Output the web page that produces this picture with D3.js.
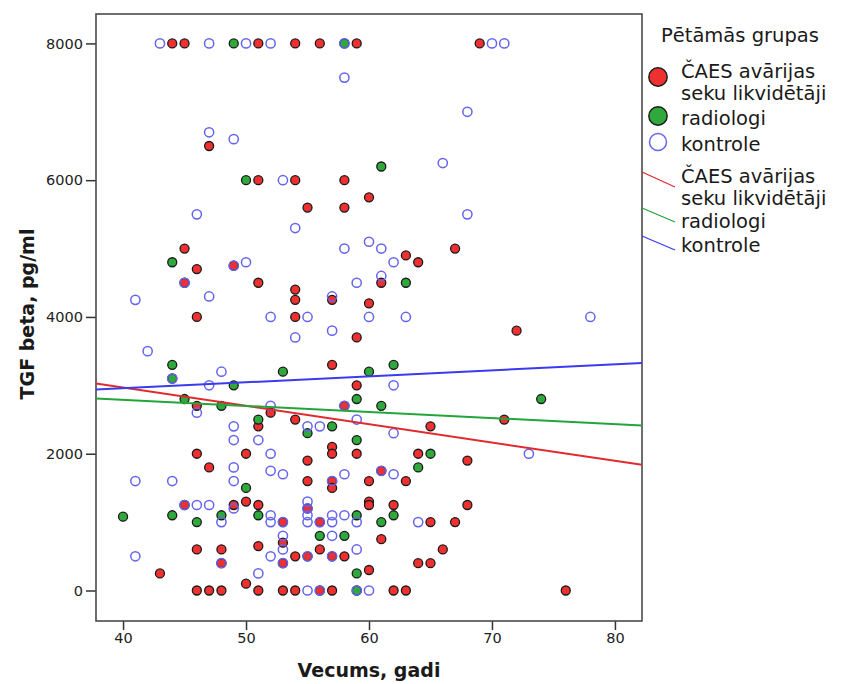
<!DOCTYPE html>
<html>
<head>
<meta charset="utf-8">
<script src="https://cdn.jsdelivr.net/npm/d3@7"></script>
<style>
  html, body { margin: 0; padding: 0; background: #fff; }
  svg { display: block; font-family: "DejaVu Sans", Verdana, sans-serif; }
</style>
</head>
<body>
<svg id="chart" width="844" height="684"></svg>
<script>
// Groups (legend order)
const groups = ["ČAES avārijas seku likvidētāji", "radiologi", "kontrole"];
const groupLines = [["ČAES avārijas", "seku likvidētāji"], ["radiologi"], ["kontrole"]];

// Age (years) and TGF beta (pg/ml) per group
const caesAge = [44,45,51,54,56,59,69, 47, 51,54,58, 60, 55,58, 45,67, 63, 64, 49, 46, 45,51,61, 54, 54,57, 60, 46,54, 72, 59, 57, 59, 46,58, 52, 54,71, 51,65, 57, 46,50,57,59,64, 55,68, 47, 61, 55,57,60,63, 57, 50,60, 45,49,51,60,62,68, 55, 53,56,65,67, 61, 53, 51, 46,48,56,66, 54,55,57,58, 48,53,64,65, 60, 43, 50, 46,47,48,51,53,54,56,57,62,63,76];
const caesTgf = [8000,8000,8000,8000,8000,8000,8000, 6500, 6000,6000,6000, 5750, 5600,5600, 5000,5000, 4900, 4800, 4750, 4700, 4500,4500,4500, 4400, 4250,4250, 4200, 4000,4000, 3800, 3700, 3300, 3000, 2700,2700, 2600, 2500,2500, 2400,2400, 2100, 2000,2000,2000,2000,2000, 1900,1900, 1800, 1750, 1600,1600,1600,1600, 1500, 1300,1300, 1250,1250,1250,1250,1250,1250, 1200, 1000,1000,1000,1000, 750, 700, 650, 600,600,600,600, 500,500,500,500, 400,400,400,400, 300, 250, 100, 0,0,0,0,0,0,0,0,0,0,0];

const radAge = [49,58, 61, 50, 44, 63, 44,62, 53,60, 44, 49, 45,59,74, 48,61, 51, 57, 55, 59, 65, 64, 50, 44,48,51,59,62, 40, 46,61, 56,58, 59, 59];
const radTgf = [8000,8000, 6200, 6000, 4800, 4500, 3300,3300, 3200,3200, 3100, 3000, 2800,2800,2800, 2700,2700, 2500, 2400, 2300, 2200, 2000, 1800, 1500, 1100,1100,1100,1100,1100, 1080, 1000,1000, 800,800, 250, 0];

const kontAge = [43,47,50,52,58,70,71, 58, 68, 47, 49, 66, 53, 46,68, 54, 60, 58,61, 50,62, 49, 61, 45,59, 47,57, 41, 52,55,60,63,78, 57, 54, 42, 48, 44, 47,62, 52,58, 46, 59, 49,55,56, 62, 49,51, 52,73, 49, 52,61, 53,58,62, 41,44,49,57, 55, 45,46,47, 49,55, 52,55,57,58, 48,52,53,55,56,57,59,64, 53,57, 53,59, 41,52,55,57, 48,53, 51, 55,56,59,60];
const kontTgf = [8000,8000,8000,8000,8000,8000,8000, 7500, 7000, 6700, 6600, 6250, 6000, 5500,5500, 5300, 5100, 5000,5000, 4800,4800, 4750, 4600, 4500,4500, 4300,4300, 4250, 4000,4000,4000,4000,4000, 3800, 3700, 3500, 3200, 3100, 3000,3000, 2700,2700, 2600, 2500, 2400,2400,2400, 2300, 2200,2200, 2000,2000, 1800, 1750,1750, 1700,1700,1700, 1600,1600,1600,1600, 1300, 1250,1250,1250, 1200,1200, 1100,1100,1100,1100, 1000,1000,1000,1000,1000,1000,1000,1000, 800,800, 600,600, 500,500,500,500, 400,400, 250, 0,0,0,0];

// Linear fit per group: predicted TGF beta at ages 40 and 80
const fitAt40 = [2968, 2788, 2958];
const fitAt80 = [1896, 2434, 3306];

const xTicks = [40, 50, 60, 70, 80];
const yTicks = [0, 2000, 4000, 6000, 8000];

const fillColors = ["#ee3030", "#2fa83c", "none"];
const strokeColors = ["#1a1a1a", "#1a1a1a", "#6464f0"];
const lineColors = ["#e02a2e", "#22a53a", "#3a3aee"];

const svg = d3.select("#chart");
const plotLeft = 96, plotRight = 642, plotTop = 14, plotBottom = 621;

const x = d3.scaleLinear().domain([37.8, 82.2]).range([plotLeft, plotRight]);
const y = d3.scaleLinear().domain([-446, 8430]).range([plotBottom, plotTop]);

// Clip region for fit lines
svg.append("defs").append("clipPath").attr("id", "plotClip")
  .append("rect").attr("x", plotLeft).attr("y", plotTop)
  .attr("width", plotRight - plotLeft).attr("height", plotBottom - plotTop);

// Axes
const yAxis = d3.axisLeft(y).tickValues(yTicks).tickSize(10).tickPadding(3).tickFormat(d3.format("d"));
const xAxis = d3.axisBottom(x).tickValues(xTicks).tickSize(9).tickPadding(3).tickFormat(d3.format("d"));

const gy = svg.append("g").attr("transform", `translate(${plotLeft},0)`).call(yAxis);
const gx = svg.append("g").attr("transform", `translate(0,${plotBottom})`).call(xAxis);
[gy, gx].forEach(g => {
  g.select(".domain").remove();
  g.selectAll(".tick line").attr("stroke", "#333").attr("stroke-width", 1.5);
  g.selectAll(".tick text").attr("fill", "#222").style("font-size", "14.5px")
    .style("font-family", "'DejaVu Sans', sans-serif");
});

// Plot frame
svg.append("rect")
  .attr("x", plotLeft).attr("y", plotTop)
  .attr("width", plotRight - plotLeft).attr("height", plotBottom - plotTop)
  .attr("fill", "none").attr("stroke", "#4a4a4a").attr("stroke-width", 1.6);

// Points: filled groups first, open circles on top
const series = [
  { ages: caesAge, vals: caesTgf },
  { ages: radAge, vals: radTgf },
  { ages: kontAge, vals: kontTgf }
];
series.forEach((s, gi) => {
  const pts = s.ages.map((a, i) => [a, s.vals[i]]);
  svg.append("g").selectAll("circle").data(pts).join("circle")
    .attr("cx", d => x(d[0]))
    .attr("cy", d => y(d[1]))
    .attr("r", gi === 2 ? 4.6 : 4.5)
    .attr("fill", fillColors[gi])
    .attr("stroke", strokeColors[gi])
    .attr("stroke-width", gi === 2 ? 1.5 : 1.3);
});

// Fit lines across the whole plot
const [xd0, xd1] = x.domain();
const plotLines = svg.append("g").attr("clip-path", "url(#plotClip)");
groups.forEach((g, gi) => {
  const slope = (fitAt80[gi] - fitAt40[gi]) / 40;
  const at = a => fitAt40[gi] + slope * (a - 40);
  plotLines.append("line")
    .attr("x1", x(xd0)).attr("y1", y(at(xd0)))
    .attr("x2", x(xd1)).attr("y2", y(at(xd1)))
    .attr("stroke", lineColors[gi]).attr("stroke-width", 2);
});

// Axis titles
svg.append("text")
  .attr("x", (plotLeft + plotRight) / 2).attr("y", 677)
  .attr("text-anchor", "middle")
  .style("font-size", "19px").style("font-weight", "bold").attr("fill", "#1a1a1a")
  .text("Vecums, gadi");
svg.append("text")
  .attr("transform", `translate(34,314) rotate(-90)`)
  .attr("text-anchor", "middle")
  .style("font-size", "19px").style("font-weight", "bold").attr("fill", "#1a1a1a")
  .text("TGF beta, pg/ml");

// Legend
const lg = svg.append("g").style("font-size", "19.5px").attr("fill", "#1a1a1a");
lg.append("text").attr("x", 661).attr("y", 42).text("Pētāmās grupas");

const markerRowY = [[78, 100], [125], [151]];
const markerY = [77, 116, 142];
groups.forEach((g, gi) => {
  lg.append("circle")
    .attr("cx", 658).attr("cy", markerY[gi]).attr("r", gi === 2 ? 8.5 : 9.2)
    .attr("fill", gi === 2 ? "none" : fillColors[gi])
    .attr("stroke", strokeColors[gi]).attr("stroke-width", gi === 2 ? 1.5 : 1.4);
  groupLines[gi].forEach((t, li) => {
    lg.append("text").attr("x", 681).attr("y", markerRowY[gi][li]).text(t);
  });
});

const lineRowY = [[183, 205], [228], [252]];
const lineSeg = [[172, 187], [208, 222], [236, 250]];
groups.forEach((g, gi) => {
  lg.append("line")
    .attr("x1", 642).attr("y1", lineSeg[gi][0])
    .attr("x2", 675).attr("y2", lineSeg[gi][1])
    .attr("stroke", lineColors[gi]).attr("stroke-width", 1.3);
  groupLines[gi].forEach((t, li) => {
    lg.append("text").attr("x", 681).attr("y", lineRowY[gi][li]).text(t);
  });
});
</script>
</body>
</html>
